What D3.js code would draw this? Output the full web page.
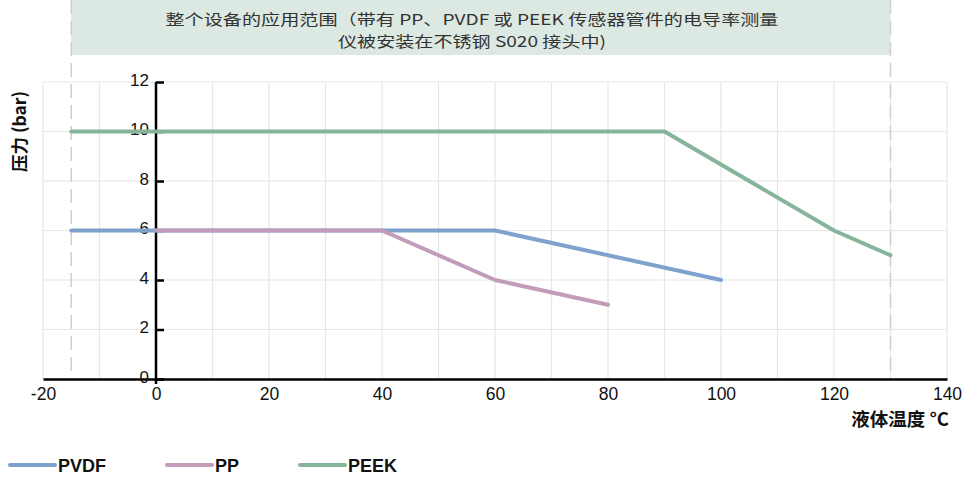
<!DOCTYPE html>
<html><head><meta charset="utf-8">
<script src="https://cdn.jsdelivr.net/npm/d3@7"></script>
<style>body{margin:0;background:#fff}svg{display:block}</style>
</head><body>
<svg id="c" width="963" height="478"></svg>
<script>
const titleLines = ["整个设备的应用范围（带有 PP、PVDF 或 PEEK 传感器管件的电导率测量", "仪被安装在不锈钢 S020 接头中)"];
const titleWidths = [613, 268];
const xTicks = [-20, 0, 20, 40, 60, 80, 100, 120, 140];
const yTicks = [0, 2, 4, 6, 8, 10, 12];
const seriesNames = ["PVDF", "PP", "PEEK"];
const seriesColors = ["#7fa1cd", "#c19db9", "#86b59b"];
const pvdf = [[-15, 6], [60, 6], [100, 4]];
const pp = [[0, 6], [40, 6], [60, 4], [80, 3]];
const peek = [[-15, 10], [90, 10], [120, 6], [130, 5]];
const limits = [-15, 130];
const xLabel = "液体温度 °C";
const yLabel = "压力 (bar)";

const svg = d3.select("#c");
const x = d3.scaleLinear().domain([-20, 140]).range([43, 947]);
const y = d3.scaleLinear().domain([0, 12]).range([379, 82]);
const font = "'Liberation Sans', Arial, sans-serif";
const cjk = "'Noto Sans CJK SC', sans-serif";

// title box
svg.append("rect").attr("x", x(limits[0])).attr("y", 0).attr("width", x(limits[1]) - x(limits[0])).attr("height", 55).attr("fill", "#dce9e2");
svg.selectAll("text.title").data(titleLines).join("text")
  .attr("x", 472).attr("y", (d, i) => 25 + i * 22)
  .attr("text-anchor", "middle").attr("font-family", cjk)
  .attr("font-size", 15).attr("fill", "#333")
  .attr("textLength", (d, i) => titleWidths[i]).attr("lengthAdjust", "spacingAndGlyphs")
  .text(d => d);

// grid
const gridX = d3.range(-20, 141, 10);
svg.append("g").selectAll("line").data(gridX).join("line")
  .attr("x1", d => x(d)).attr("x2", d => x(d)).attr("y1", y(12)).attr("y2", y(0))
  .attr("stroke", "#e6e6e6").attr("stroke-width", 1.2);
svg.append("g").selectAll("line").data(yTicks).join("line")
  .attr("x1", x(-20)).attr("x2", x(140)).attr("y1", d => y(d)).attr("y2", d => y(d))
  .attr("stroke", "#e6e6e6").attr("stroke-width", 1.2);

// dashed limit lines
svg.append("g").selectAll("line").data(limits).join("line")
  .attr("x1", d => x(d)).attr("x2", d => x(d)).attr("y1", 0).attr("y2", y(0))
  .attr("stroke", "#cfcfcf").attr("stroke-width", 1.5).attr("stroke-dasharray", "14,7");

// axes
const fmt = d => String(d);
const xAxis = svg.append("g").attr("transform", `translate(0,${y(0)})`)
  .call(d3.axisBottom(x).tickValues(xTicks).tickSize(0).tickPadding(9).tickFormat(fmt));
xAxis.select(".domain").attr("stroke", "#000").attr("stroke-width", 2.5);
xAxis.selectAll("text").attr("font-family", font).attr("font-size", 17.5).attr("fill", "#111");

const yAxis = svg.append("g").attr("transform", `translate(${x(0)},0)`)
  .call(d3.axisRight(y).tickValues(yTicks).tickSize(8).tickSizeOuter(0).tickFormat(fmt));
yAxis.select(".domain").attr("stroke", "#000").attr("stroke-width", 2.5).attr("d", `M0,${y(12)}V${y(0) + 5}`);
yAxis.selectAll(".tick line").attr("stroke", "#000").attr("stroke-width", 2.5);
yAxis.selectAll("text").attr("x", -7).attr("dy", "0.2em").attr("text-anchor", "end").attr("font-family", font).attr("font-size", 17).attr("fill", "#111");

// lines
const line = d3.line().x(d => x(d[0])).y(d => y(d[1]));
const data = [pvdf, pp, peek];
svg.append("g").selectAll("path").data(data).join("path")
  .attr("d", line).attr("fill", "none").attr("stroke", (d, i) => seriesColors[i])
  .attr("stroke-width", 4).attr("stroke-linecap", "round").attr("stroke-linejoin", "round");

// axis titles
svg.append("text").attr("transform", `translate(26,${y(10)}) rotate(-90)`).attr("text-anchor", "middle")
  .attr("font-family", cjk).attr("font-weight", "bold").attr("font-size", 17.5).attr("fill", "#111").text(yLabel);
svg.append("text").attr("x", 949).attr("y", 426).attr("text-anchor", "end")
  .attr("font-family", cjk).attr("font-weight", "bold").attr("font-size", 18.5).attr("fill", "#111").text(xLabel);

// legend
const lx = [10, 167, 300];
const leg = svg.append("g").selectAll("g").data(seriesNames).join("g").attr("transform", (d, i) => `translate(${lx[i]},465)`);
leg.append("line").attr("x1", 0).attr("x2", 45).attr("stroke", (d, i) => seriesColors[i]).attr("stroke-width", 4).attr("stroke-linecap", "round");
leg.append("text").attr("x", 48).attr("y", 7).attr("font-family", font).attr("font-weight", "bold").attr("font-size", 18).attr("fill", "#111").text(d => d);
</script>
</body></html>
